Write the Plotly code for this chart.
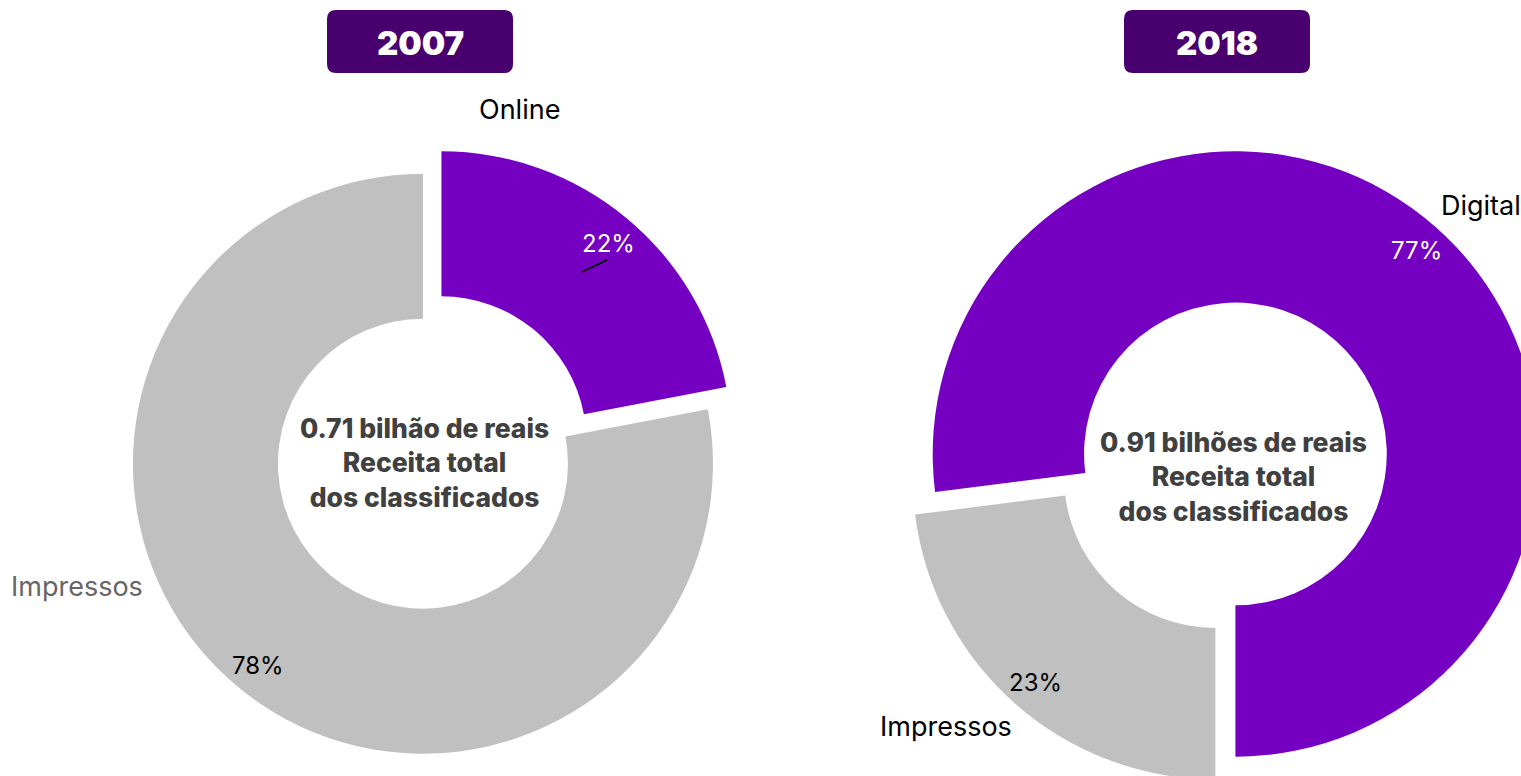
import plotly.graph_objects as go

# ---- data ----
years = ["2007", "2018"]
labels_2007 = ["Online", "Impressos"]
values_2007 = [22, 78]
labels_2018 = ["Digital", "Impressos"]
values_2018 = [77, 23]
center_text_2007 = ["0.71 bilhão de reais", "Receita total", "dos classificados"]
center_text_2018 = ["0.91 bilhões de reais", "Receita total", "dos classificados"]

PURPLE = "#7600C1"
GRAY = "#C0C0C0"
DARK = "#48006E"
TXT = "#404040"

W, H = 1600, 840  # paper larger than the viewport so the right donut is clipped


def fx(px):
    return px / W


def fy(py):
    return 1 - py / H


def box_domain(cx, cy, size):
    return dict(x=[fx(cx - size / 2), fx(cx + size / 2)],
                y=[fy(cy + size / 2), fy(cy - size / 2)])


PULL = 0.05
fig = go.Figure()
fig.add_trace(go.Pie(
    labels=labels_2007, values=values_2007, hole=0.5, sort=False,
    direction="clockwise", rotation=0, pull=[PULL, PULL],
    marker=dict(colors=[PURPLE, GRAY], line=dict(width=0)),
    textinfo="none", hoverinfo="label+percent",
    domain=box_domain(432.2, 452.5, 2 * 290 * (1 + PULL)),
    showlegend=False,
))
fig.add_trace(go.Pie(
    labels=labels_2018, values=values_2018, hole=0.5, sort=False,
    direction="clockwise", rotation=262.8, pull=[PULL, PULL],
    marker=dict(colors=[PURPLE, GRAY], line=dict(width=0)),
    textinfo="none", hoverinfo="label+percent",
    domain=box_domain(1225.4, 465.3, 2 * 302.7 * (1 + PULL)),
    showlegend=False,
))


def rounded_rect(x0, y0, x1, y1, r=9):
    # pixel coords (top-left origin) -> paper path
    X0, X1 = fx(x0), fx(x1)
    Y0, Y1 = fy(y0), fy(y1)  # Y0 top, Y1 bottom
    rx, ry = r / W, r / H
    return (f"M {X0+rx},{Y0} L {X1-rx},{Y0} Q {X1},{Y0} {X1},{Y0-ry} "
            f"L {X1},{Y1+ry} Q {X1},{Y1} {X1-rx},{Y1} "
            f"L {X0+rx},{Y1} Q {X0},{Y1} {X0},{Y1+ry} "
            f"L {X0},{Y0-ry} Q {X0},{Y0} {X0+rx},{Y0} Z")


shapes = []
annotations = []
for yr, (x0, x1) in zip(years, [(327, 513), (1124, 1310)]):
    shapes.append(dict(type="path", xref="paper", yref="paper",
                       path=rounded_rect(x0, 10, x1, 73),
                       fillcolor=DARK, line=dict(width=0)))
    annotations.append(dict(x=fx((x0 + x1) / 2), y=fy(43), xref="paper", yref="paper",
                            xanchor="center", yanchor="middle",
                            text=yr, showarrow=False,
                            font=dict(family="Inter", size=33, color="white", weight=900)))

# leader line near 22%
shapes.append(dict(type="line", xref="paper", yref="paper",
                   x0=fx(582), y0=fy(272), x1=fx(607), y1=fy(260),
                   line=dict(color="black", width=1.5)))


def ann(px, py, text, color="black", size=24):
    annotations.append(dict(x=fx(px), y=fy(py), xref="paper", yref="paper",
                            xanchor="center", yanchor="middle",
                            text=text, showarrow=False,
                            font=dict(family="Inter", size=size, color=color)))


ann(519, 110, labels_2007[0], size=27)
ann(608, 243, f"{values_2007[0]}%", color="white")
ann(77, 586, labels_2007[1], color="#666666", size=27)
ann(258, 665, f"{values_2007[1]}%")
ann(1481, 205, labels_2018[0], size=27)
ann(1416, 250, f"{values_2018[0]}%", color="white")
ann(1035, 682, f"{values_2018[1]}%")
ann(946, 726, labels_2018[1], size=27)

for lines, (cx, cy) in [(center_text_2007, (424, 462)), (center_text_2018, (1233, 476))]:
    annotations.append(dict(x=fx(cx), y=fy(cy), xref="paper", yref="paper",
                            xanchor="center", yanchor="middle",
                            text="<br>".join(lines), showarrow=False, align="center",
                            font=dict(family="Inter", size=26.5, color=TXT, weight=800)))

fig.update_layout(
    width=W, height=H,
    margin=dict(l=0, r=0, t=0, b=0),
    paper_bgcolor="white", plot_bgcolor="white",
    shapes=shapes, annotations=annotations,
)

fig.write_html(
    "out.html",
    post_script="document.documentElement.style.overflow='hidden';"
                "document.body.style.overflow='hidden';document.body.style.margin='0';",
)
